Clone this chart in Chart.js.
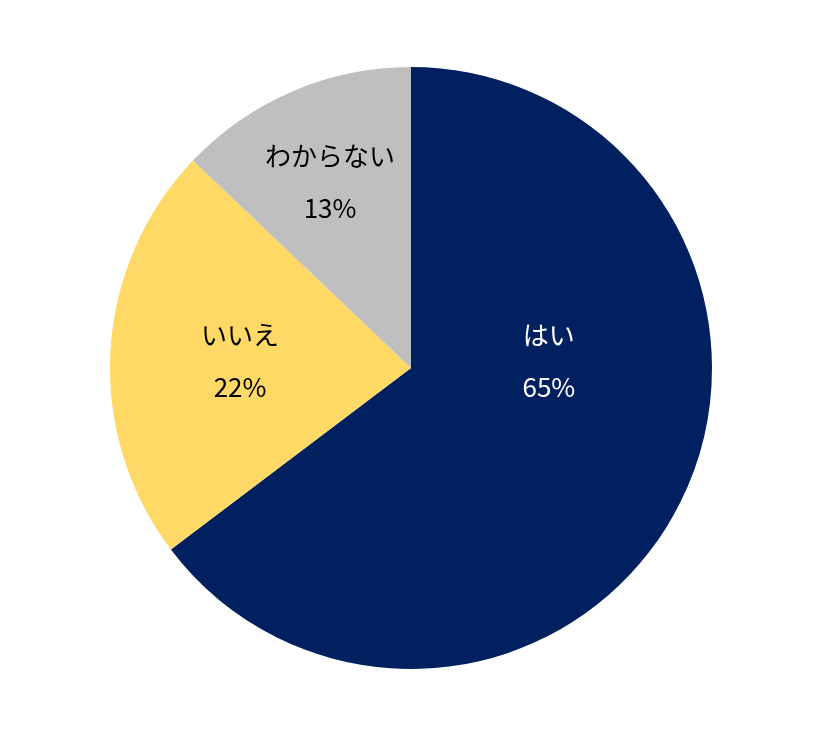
<!DOCTYPE html>
<html>
<head>
<meta charset="utf-8">
<script src="https://cdn.jsdelivr.net/npm/chart.js@4/dist/chart.umd.min.js"></script>
<style>
  html, body { margin: 0; padding: 0; background: #fff; }
  #wrap { width: 840px; height: 737px; }
</style>
</head>
<body>
<div id="wrap"><canvas id="pieCtx" width="840" height="737"></canvas></div>
<script>
// answers, clockwise from 12 o'clock
const categories = ['はい', 'いいえ', 'わからない'];
const shares = [64.7, 22.4, 12.9];
const sliceColors = ['#002060', '#FFD966', '#BFBFBF'];
const labelColors = ['#ffffff', '#000000', '#000000'];
// label anchor as fraction of the radius, relative to the pie centre
const labelAnchors = [[0.458, -0.023], [-0.568, -0.023], [-0.269, -0.618]];

const FONT = '"Noto Sans CJK JP", "Noto Sans", sans-serif';

const sliceLabels = {
    id: 'sliceLabels',
    afterDatasetsDraw(chart) {
        const ctx = chart.ctx;
        const arcs = chart.getDatasetMeta(0).data;
        ctx.save();
        ctx.font = '26px ' + FONT;
        ctx.textAlign = 'center';
        ctx.textBaseline = 'middle';
        arcs.forEach((arc, i) => {
            const r = arc.outerRadius;
            const x = arc.x + labelAnchors[i][0] * r;
            const y = arc.y + labelAnchors[i][1] * r;
            ctx.fillStyle = labelColors[i];
            ctx.fillText(categories[i], x, y - 26);
            ctx.fillText(Math.round(shares[i]) + '%', x, y + 26);
        });
        ctx.restore();
    }
};

new Chart(document.getElementById('pieCtx'), {
    type: 'pie',
    data: {
        labels: categories,
        datasets: [{
            data: shares,
            backgroundColor: sliceColors,
            borderWidth: 0
        }]
    },
    options: {
        responsive: false,
        animation: false,
        layout: { padding: { top: 67, bottom: 68, left: 101, right: 119 } },
        plugins: {
            legend: { display: false },
            tooltip: { enabled: false }
        }
    },
    plugins: [sliceLabels]
});
</script>
</body>
</html>
